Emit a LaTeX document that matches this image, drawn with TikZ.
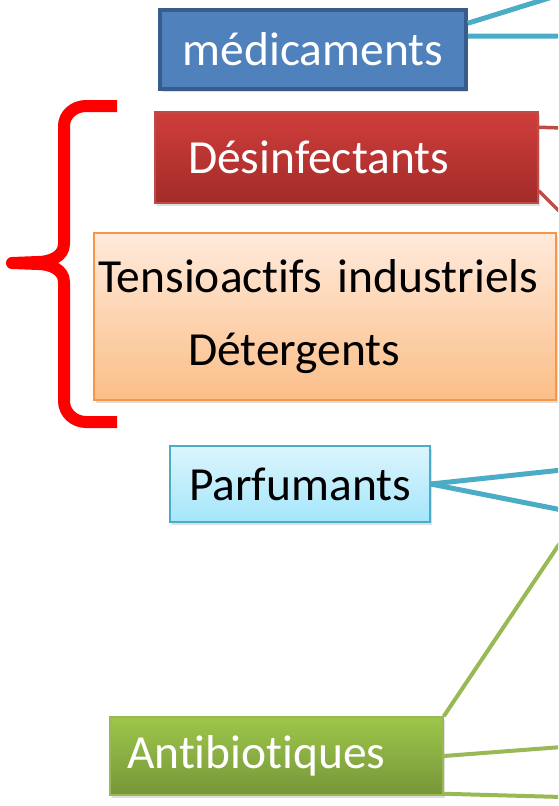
\documentclass[tikz,border=0pt]{standalone}
\usepackage{fontspec}
\setmainfont{Carlito}[Ligatures=NoCommon]
\usetikzlibrary{shadows}
\definecolor{medfill}{HTML}{4F81BD}
\definecolor{meddraw}{HTML}{385D8A}
\definecolor{destop}{HTML}{CF3E3B}
\definecolor{desbot}{HTML}{A32B29}
\definecolor{desdraw}{HTML}{BE4B48}
\definecolor{tenstop}{HTML}{FFEADB}
\definecolor{tensbot}{HTML}{FBBE88}
\definecolor{tensdraw}{HTML}{F79646}
\definecolor{parftop}{HTML}{DCF5FD}
\definecolor{parfbot}{HTML}{A5E6FB}
\definecolor{parfdraw}{HTML}{4BACC6}
\definecolor{antitop}{HTML}{9DC64A}
\definecolor{antibot}{HTML}{76963A}
\definecolor{antidraw}{HTML}{98B954}

\begin{document}
\begin{tikzpicture}[x=1pt,y=-1pt,
    box/.style={draw,line width=1.5pt,inner ysep=0pt,
      font=\fontsize{47.5}{73}\selectfont,
      drop shadow={opacity=.25,shadow xshift=2pt,shadow yshift=-3pt}},
    link/.style={line width=#1,line cap=butt},
    bracket/.style={draw=red,line width=12pt,line join=round}]
    \clip (0,0) rectangle (558,806);
    \node[box,draw=meddraw,fill=medfill,text=white,line width=3.5pt,
      minimum width=306pt,minimum height=79pt] (med) at (313,49.5) {médicaments};
    \node[box,draw=desdraw,top color=destop,bottom color=desbot,text=white,
      inner xsep=33pt,text width=317pt,align=left,minimum height=91pt] (des) at (346.5,157.5) {Désinfectants};
    \node[box,draw=tensdraw,top color=tenstop,bottom color=tensbot,
      inner xsep=4pt,text width=454pt,align=left,minimum height=167pt] (tens) at (325,316.5)
      {Tensioactifs industriels\\\hspace*{90pt}Détergents};
    \node[box,draw=parfdraw,top color=parftop,bottom color=parfbot,
      minimum width=260pt,minimum height=76pt] (parf) at (300,484) {Parfumants};
    \node[box,draw=antidraw,top color=antitop,bottom color=antibot,text=white,
      inner xsep=17pt,text width=299pt,align=left,minimum height=78pt] (anti) at (276.5,756) {Antibiotiques};
    % free ends at the right edge
    \coordinate (med1) at (562,-6);
    \coordinate (med2) at (562,36);
    \coordinate (des1) at (562,128);
    \coordinate (des2) at (562,214);
    \coordinate (parf1) at (562,470);
    \coordinate (parf2) at (562,510);
    \coordinate (anti1) at (562,540);
    \coordinate (anti2) at (562,747);
    \coordinate (anti3) at (562,797);
    \draw[link=5pt,parfdraw] ([yshift=-15pt]med.north east) -- (med1);
    \draw[link=5pt,parfdraw] ([yshift=-28pt]med.north east) -- (med2);
    \draw[link=3.5pt,desdraw] ([yshift=-16pt]des.north east) -- (des1);
    \draw[link=3.5pt,desdraw] ([yshift=13pt]des.south east) -- (des2);
    \draw[link=5pt,parfdraw] (parf.east) -- (parf1);
    \draw[link=5pt,parfdraw] (parf.east) -- (parf2);
    \draw[link=4pt,antidraw] (anti.north east) -- (anti1);
    \draw[link=4pt,antidraw] (anti.east) -- (anti2);
    \draw[link=4pt,antidraw] ([yshift=2pt]anti.south east) -- (anti3);
    % brace
    \draw[bracket] (117,106) -- (86,106) to[out=180,in=90] (64,126) -- (64,244)
      to[out=-90,in=0] (38,262) -- (12,263) -- (38,264)
      to[out=0,in=90] (64,282) -- (64,401) to[out=-90,in=180] (86,422) -- (117,422);
\end{tikzpicture}
\end{document}
